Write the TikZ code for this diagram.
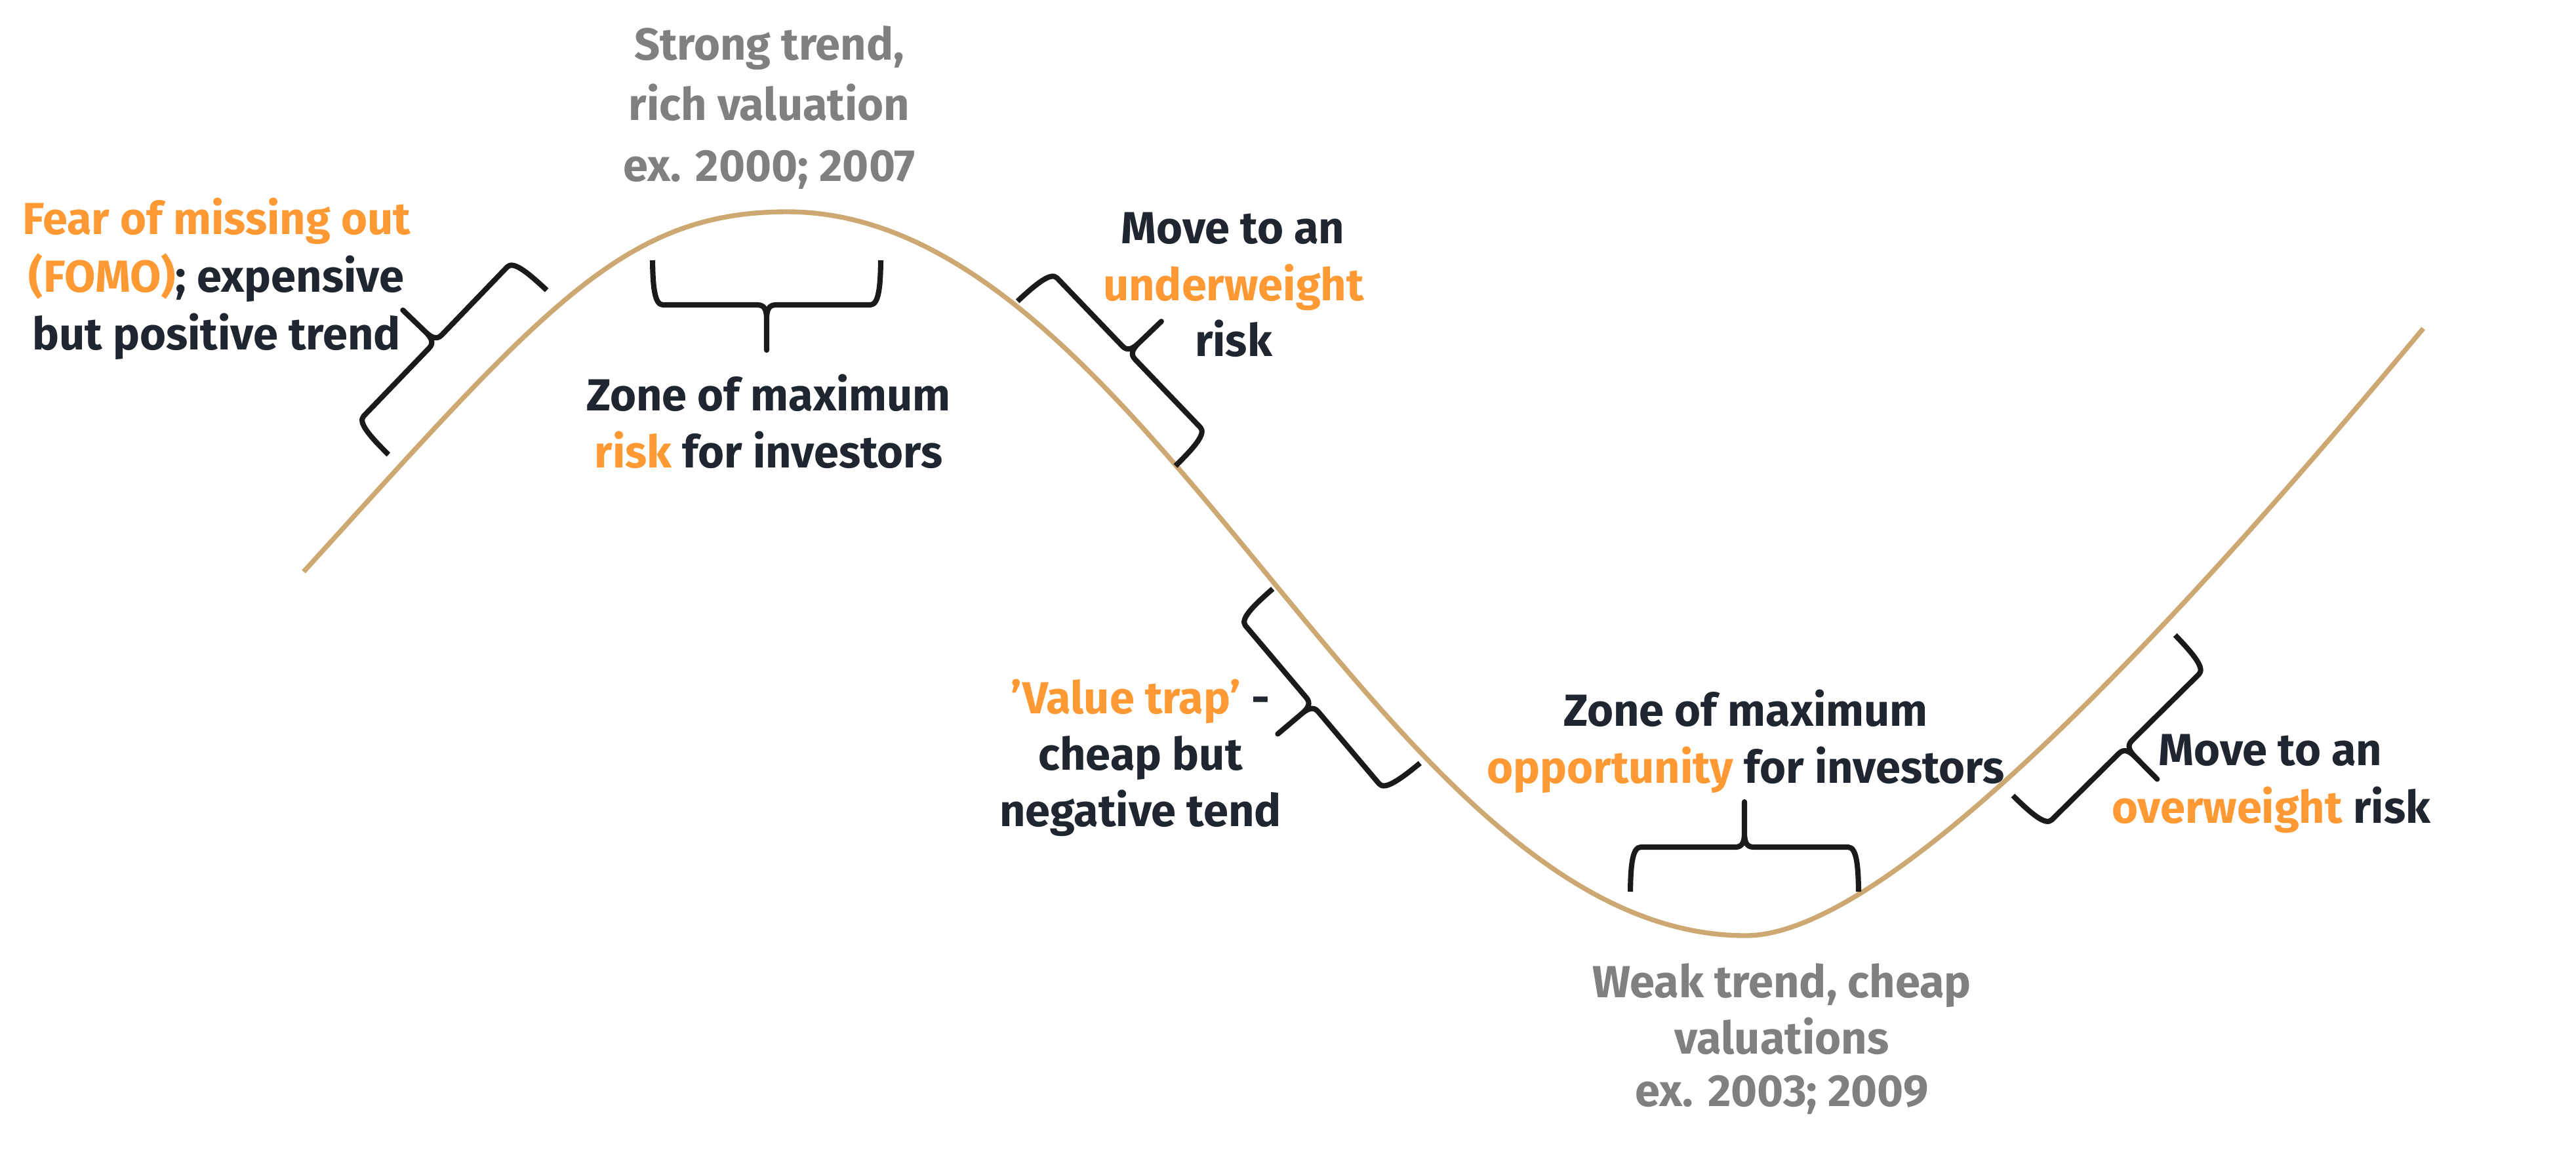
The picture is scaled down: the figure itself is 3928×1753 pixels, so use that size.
\documentclass[tikz,border=0pt]{standalone}
\usepackage{fontspec}
\setmainfont{Fira Sans}
\definecolor{hl}{HTML}{FF9933}
\definecolor{ink}{HTML}{1F2630}
\definecolor{muted}{HTML}{808080}
\definecolor{curvec}{HTML}{CDA872}
\definecolor{bracec}{HTML}{1A1A1A}
\tikzset{
  bracestyle/.style={draw=bracec, line width=2.3pt, line join=round, line cap=butt},
  bracepic/.pic={
    \draw[bracestyle] (-174,0) .. controls (-173.5,40) and (-171,68) .. (-158,68)
      -- (-14,68) .. controls (-3,68) and (0,76) .. (0,90) -- (0,137)
      -- (0,90) .. controls (0,76) and (3,68) .. (14,68)
      -- (158,68) .. controls (171,68) and (173.5,40) .. (174,0);
  }
}
\begin{document}
\begin{tikzpicture}[x=0.01cm,y=-0.01cm,
  lbl/.style={font=\bfseries\fontsize{19.5}{25}\selectfont, anchor=base, inner sep=0pt, text=ink},
  grey/.style={lbl, text=muted},
  curvestyle/.style={draw=curvec, line width=2.1pt, line cap=butt}]
\fill[white] (0,0) rectangle (3928,1753);
\useasboundingbox (0,0) rectangle (3928,1753);

% main curve
\coordinate (cStart) at (463,872);
\coordinate (cPeak) at (1200,323);
\coordinate (cTrough) at (2662,1427);
\coordinate (cEnd) at (3695,501);
\draw[curvestyle] (cStart) .. controls (829,469) and (950,323) .. (cPeak)
  .. controls (1755,323) and (2107,1427) .. (cTrough)
  .. controls (2892,1427) and (3362,901) .. (cEnd);

% braces
\pic (br1) [rotate=0] at (1169,397) {bracepic};
\pic (br2) [rotate=-133.9] at (713,568) {bracepic};
\pic (br3) [rotate=133.8] at (1672,585) {bracepic};
\pic (br4) [rotate=-49.8] at (2053,1031) {bracepic};
\pic (br5) [rotate=180] at (2660,1360) {bracepic};
\pic (br6) [rotate=44.7] at (3193,1091) {bracepic};

% labels
\node[lbl] (fomoA) at (330,357) {\textcolor{hl}{Fear of missing out}};
\node[lbl] (fomoB) at (330,445) {\textcolor{hl}{(FOMO)}; expensive};
\node[lbl] (fomoC) at (330,533) {but positive trend};

\node[grey] (topA) at (1173,91) {Strong trend,};
\node[grey] (topB) at (1173,183) {rich valuation};
\node[grey] (topC) at (1173,276) {ex. 2000; 2007};

\node[lbl] (riskA) at (1172,626) {Zone of maximum};
\node[lbl] (riskB) at (1172,713) {\textcolor{hl}{risk} for investors};

\node[lbl] (uwA) at (1880,371) {Move to an};
\node[lbl] (uwB) at (1881,458) {\textcolor{hl}{underweight}};
\node[lbl] (uwC) at (1881,543) {risk};

\node[lbl] (vtA) at (1739,1088) {\textcolor{hl}{’Value trap’} -};
\node[lbl] (vtB) at (1739,1174) {cheap but};
\node[lbl] (vtC) at (1739,1260) {negative tend};

\node[lbl] (opA) at (2662,1107) {Zone of maximum};
\node[lbl] (opB) at (2662,1194) {\textcolor{hl}{opportunity} for investors};

\node[grey] (lowA) at (2717,1521) {Weak trend, cheap};
\node[grey] (lowB) at (2717,1607) {valuations};
\node[grey] (lowC) at (2717,1687) {ex. 2003; 2009};

\node[lbl] (owA) at (3462,1167) {Move to an};
\node[lbl] (owB) at (3463,1255) {\textcolor{hl}{overweight} risk};
\end{tikzpicture}
\end{document}
